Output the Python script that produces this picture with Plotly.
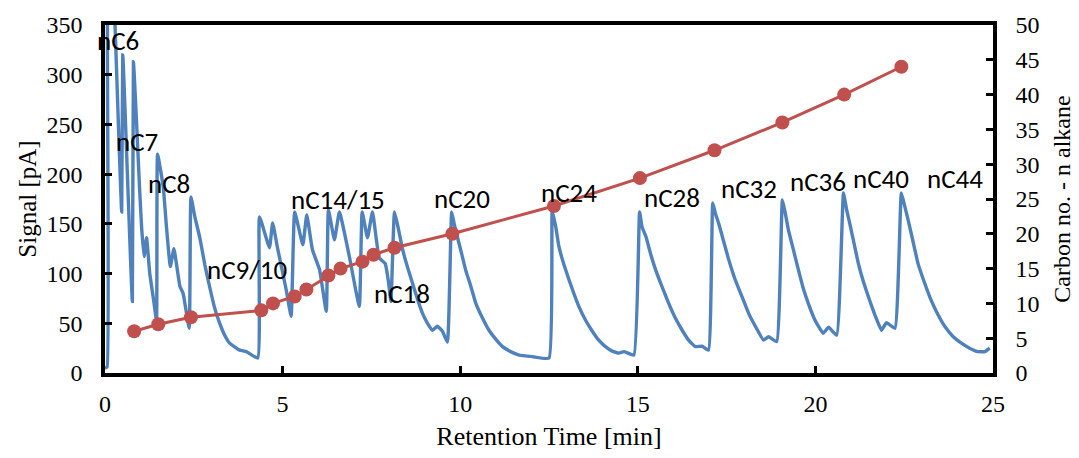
import plotly.graph_objects as go

# FID chromatogram trace (retention time in min, signal in pA)
rt_min = [
    0.00, 0.06, 0.08, 0.20, 0.28, 0.47, 0.50, 0.77, 0.80, 0.98,
    1.03, 1.10, 1.17, 1.26, 1.37, 1.45, 1.48, 1.64, 1.73, 1.84,
    1.94, 2.11, 2.20, 2.37, 2.42, 2.53, 2.67, 2.81, 2.95, 3.09,
    3.23, 3.37, 3.51, 3.79, 3.98, 4.30, 4.35, 4.63, 4.72, 4.85,
    5.10, 5.24, 5.34, 5.57, 5.68, 5.84, 6.04, 6.23, 6.29, 6.46,
    6.60, 6.88, 7.16, 7.24, 7.39, 7.53, 7.72, 7.89, 7.98, 8.05,
    8.15, 8.26, 8.38, 8.52, 8.66, 8.80, 8.94, 9.08, 9.22, 9.36,
    9.50, 9.64, 9.76, 9.83, 9.92, 10.04, 10.15, 10.30, 10.44, 10.63,
    10.81, 11.00, 11.19, 11.42, 11.66, 12.04, 12.50, 12.59, 12.69, 12.78,
    12.92, 13.06, 13.20, 13.34, 13.53, 13.72, 13.90, 14.09, 14.28, 14.47,
    14.61, 14.89, 15.05, 15.12, 15.23, 15.36, 15.50, 15.68, 15.87, 16.06,
    16.25, 16.43, 16.62, 16.81, 16.99, 17.11, 17.18, 17.28, 17.42, 17.56,
    17.74, 17.93, 18.12, 18.31, 18.54, 18.68, 18.91, 19.07, 19.15, 19.24,
    19.38, 19.52, 19.66, 19.80, 19.99, 20.22, 20.37, 20.60, 20.79, 20.88,
    20.97, 21.09, 21.21, 21.35, 21.49, 21.68, 21.86, 22.00, 22.24, 22.42,
    22.52, 22.61, 22.75, 22.89, 23.08, 23.26, 23.46, 23.64, 23.88, 24.11,
    24.34, 24.58, 24.77, 24.91,
]
signal_pa = [
    5, 6, 400, 420, 352, 162, 320, 72, 313, 181,
    147, 117, 136, 100, 73, 53, 220, 187, 147, 107,
    125, 87, 80, 45, 177, 157, 136, 109, 86, 65,
    50, 38, 30, 23, 21.5, 15, 157, 126, 151, 127,
    84, 57, 162, 129, 159, 124, 104, 62, 164, 134,
    162, 117, 67, 162, 136, 162, 116, 110, 92, 72,
    162, 145, 124, 106, 90, 74, 60, 50, 43, 47,
    42, 31, 162, 150, 137, 120, 104, 87, 70, 55,
    43, 34, 26.5, 21.5, 18, 16.4, 15, 163, 147, 127,
    109, 94, 80, 67, 53, 42, 33, 26.5, 22, 20,
    21.5, 18, 162, 147, 137, 120, 104, 87, 70, 55,
    43, 33, 26.5, 27, 23, 171, 161, 150, 132, 114,
    94, 77, 60, 47, 33, 36.5, 31.5, 174, 161, 144,
    124, 104, 85, 70, 53, 40, 46, 38, 181, 164,
    150, 130, 110, 92, 77, 58, 43, 50.6, 45, 181,
    167, 154, 132, 110, 90, 73, 58, 47, 36.5, 30,
    25, 21.5, 21.5, 25,
]

# n-alkane calibration: retention time vs carbon number
alkane_rt = [0.82, 1.50, 2.42, 4.40, 4.73, 5.34, 5.67, 6.29, 6.63, 7.25,
             7.56, 8.15, 9.78, 12.64, 15.06, 17.16, 19.07, 20.81, 22.42]
alkane_cn = [6, 7, 8, 9, 10, 11, 12, 14, 15, 16,
             17, 18, 20, 24, 28, 32, 36, 40, 44]

# peak labels and where they sit (time, signal)
peak_names = ["nC6", "nC7", "nC8", "nC9/10", "nC14/15", "nC18", "nC20",
              "nC24", "nC28", "nC32", "nC36", "nC40", "nC44"]
label_rt = [0.37, 0.90, 1.80, 3.99, 6.57, 8.37, 10.06,
            13.06, 15.96, 18.12, 20.08, 21.85, 23.93]
label_pa = [334, 233, 191, 104, 174, 79.5, 176,
            182, 177, 186, 193, 196, 196]

BLUE = "#4F81BD"
RED = "#C0504D"
SERIF = "Liberation Serif"
SANS = "Carlito"

fig = go.Figure()
fig.add_trace(go.Scatter(
    x=rt_min, y=signal_pa, mode="lines",
    line=dict(color=BLUE, width=3.4, shape="spline", smoothing=0.35),
    showlegend=False,
))
fig.add_trace(go.Scatter(
    x=alkane_rt, y=alkane_cn, mode="lines+markers", yaxis="y2",
    line=dict(color=RED, width=3),
    marker=dict(color=RED, size=14), showlegend=False,
))

for name, tx, ty in zip(peak_names, label_rt, label_pa):
    fig.add_annotation(x=tx, y=ty, text=name, showarrow=False,
                       xanchor="center", yanchor="middle",
                       font=dict(family=SANS, size=27, color="black"))

axis_common = dict(
    showgrid=False, zeroline=False, showline=True, linecolor="black",
    linewidth=3.5, ticks="inside", ticklen=7, tickwidth=3, tickcolor="black",
    tickfont=dict(family=SERIF, size=24, color="black"), automargin=False,
)

fig.update_layout(
    width=1079, height=458,
    margin=dict(l=105, r=86, t=25, b=85),
    paper_bgcolor="white", plot_bgcolor="white",
    font=dict(family=SERIF, color="black"),
    xaxis=dict(range=[0, 25], dtick=5, mirror=True, ticklabelstandoff=6,
               title=dict(text="Retention Time [min]", standoff=12,
                          font=dict(family=SERIF, size=26, color="black")),
               **axis_common),
    yaxis=dict(range=[0, 350], dtick=50, ticklabelstandoff=14,
               title=dict(text="Signal [pA]", standoff=4,
                          font=dict(family=SERIF, size=25, color="black")),
               **axis_common),
    yaxis2=dict(range=[0, 50], dtick=5, overlaying="y", side="right",
                ticklabelstandoff=14,
                title=dict(text="Carbon no. - n alkane", standoff=16,
                           font=dict(family=SERIF, size=24, color="black")),
                **axis_common),
)

fig.write_html("out.html")
